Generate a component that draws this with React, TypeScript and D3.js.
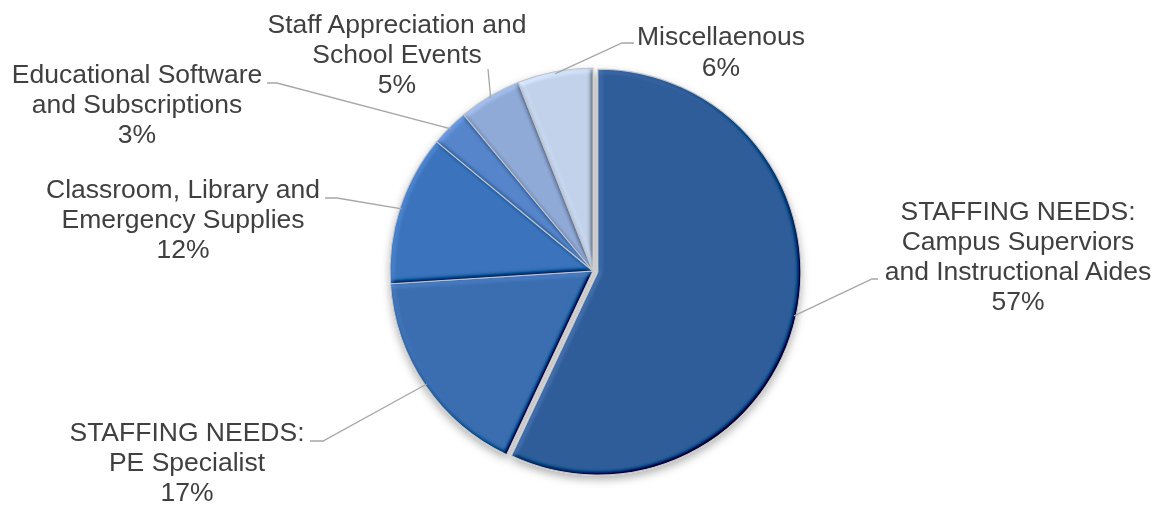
import React from "react";
import { arc, pie, PieArcDatum } from "d3";

const WIDTH = 1162;
const HEIGHT = 506;
const CX = 593;
const CY = 271;
const RADIUS = 203;
const EXPLODE = 5;
const FONT = "'Liberation Sans', Arial, sans-serif";
const FONT_SIZE = 26.5;
const TEXT_COLOR = "#404040";
const LEADER_COLOR = "#a6a6a6";
const LINE_HEIGHT = 30;
const LIGHT_ELEVATION = 55;

// data, in drawing order (clockwise from 12 o'clock)
const categories = [
    "STAFFING NEEDS: Campus Superviors and Instructional Aides",
    "STAFFING NEEDS: PE Specialist",
    "Classroom, Library and Emergency Supplies",
    "Educational Software and Subscriptions",
    "Staff Appreciation and School Events",
    "Miscellaenous",
];
const values = [57, 17, 12, 3, 5, 6];
const percentLabels = ["57%", "17%", "12%", "3%", "5%", "6%"];
const labelLines = [
    ["STAFFING NEEDS:", "Campus Superviors", "and Instructional Aides"],
    ["STAFFING NEEDS:", "PE Specialist"],
    ["Classroom, Library and", "Emergency Supplies"],
    ["Educational Software", "and Subscriptions"],
    ["Staff Appreciation and", "School Events"],
    ["Miscellaenous"],
];

const sliceColors = ["#2e5d99", "#3a6eb1", "#3a73bc", "#5685cb", "#90aad7", "#c2d2ea"];

// label layout: text centre x, first baseline, leader elbow and end
type LabelLayout = { x: number; y: number; elbow: [number, number]; end: [number, number] };
const labelLayout: LabelLayout[] = [
    { x: 1018, y: 220, elbow: [872, 279], end: [878, 279] },
    { x: 187, y: 441, elbow: [323, 441], end: [310, 441] },
    { x: 183, y: 198, elbow: [337, 198], end: [325, 198] },
    { x: 137, y: 83, elbow: [277, 83], end: [267, 83] },
    { x: 397, y: 33, elbow: [488, 69], end: [488, 69] },
    { x: 721, y: 45, elbow: [622, 43], end: [634, 43] },
];

type Datum = { name: string; value: number; idx: number };

export default function App() {
    const data: Datum[] = categories.map((name, idx) => ({ name, value: values[idx], idx }));
    const arcs = pie<Datum>()
        .sort(null)
        .value(d => d.value)(data);

    const arcGen = arc<PieArcDatum<Datum>>().innerRadius(0).outerRadius(RADIUS);

    const offsetOf = (a: PieArcDatum<Datum>): [number, number] => {
        if (a.index !== 0) return [0, 0];
        const mid = (a.startAngle + a.endAngle) / 2;
        return [EXPLODE * Math.sin(mid), -EXPLODE * Math.cos(mid)];
    };

    const edgePoint = (a: PieArcDatum<Datum>): [number, number] => {
        const mid = (a.startAngle + a.endAngle) / 2;
        const [ox, oy] = offsetOf(a);
        return [CX + ox + (RADIUS - 2) * Math.sin(mid), CY + oy - (RADIUS - 2) * Math.cos(mid)];
    };

    const flat = Math.sin((LIGHT_ELEVATION * Math.PI) / 180);

    return (
        <svg
            width={WIDTH}
            height={HEIGHT}
            style={{ position: "absolute", left: 0, top: 0, background: "#fff" }}
        >
            <defs>
                <filter id="bevel" x="-10%" y="-10%" width="120%" height="120%">
                    <feGaussianBlur in="SourceAlpha" stdDeviation="2.5" result="blur" />
                    <feDiffuseLighting
                        in="blur"
                        surfaceScale="3"
                        diffuseConstant="1"
                        lightingColor="#ffffff"
                        result="diff"
                    >
                        <feDistantLight azimuth={225} elevation={LIGHT_ELEVATION} />
                    </feDiffuseLighting>
                    {/* multiply so that shaded edges keep the slice hue */}
                    <feComposite
                        in="SourceGraphic"
                        in2="diff"
                        operator="arithmetic"
                        k1={1 / flat}
                        k2="0"
                        k3="0.12"
                        k4={-0.12 * flat}
                        result="lit"
                    />
                    <feComposite in="lit" in2="SourceAlpha" operator="in" />
                </filter>
                <filter id="shadow" x="-10%" y="-10%" width="120%" height="125%">
                    <feDropShadow dx="0" dy="4" stdDeviation="4" floodColor="#000" floodOpacity="0.3" />
                </filter>
            </defs>

            <g filter="url(#shadow)">
                {arcs.map(a => {
                    const [ox, oy] = offsetOf(a);
                    return (
                        <g key={a.data.name} transform={`translate(${CX + ox},${CY + oy})`}>
                            <path d={arcGen(a) || ""} fill={sliceColors[a.index]} filter="url(#bevel)" />
                            <path d={arcGen(a) || ""} fill="none" stroke="#c4c4c4" strokeWidth={1.1} />
                        </g>
                    );
                })}
            </g>

            {arcs.map(a => {
                const lay = labelLayout[a.index];
                const [ex, ey] = edgePoint(a);
                const pts = [[ex, ey], lay.elbow, lay.end].map(p => p.join(",")).join(" ");
                const lines = [...labelLines[a.index], percentLabels[a.index]];
                return (
                    <g key={`label-${a.data.name}`}>
                        <polyline points={pts} fill="none" stroke={LEADER_COLOR} strokeWidth={1.3} />
                        <text fontFamily={FONT} fontSize={FONT_SIZE} fill={TEXT_COLOR} textAnchor="middle">
                            {lines.map((t, i) => (
                                <tspan key={i} x={lay.x} y={lay.y + i * (a.index === 5 ? 31 : LINE_HEIGHT)}>
                                    {t}
                                </tspan>
                            ))}
                        </text>
                    </g>
                );
            })}
        </svg>
    );
}
